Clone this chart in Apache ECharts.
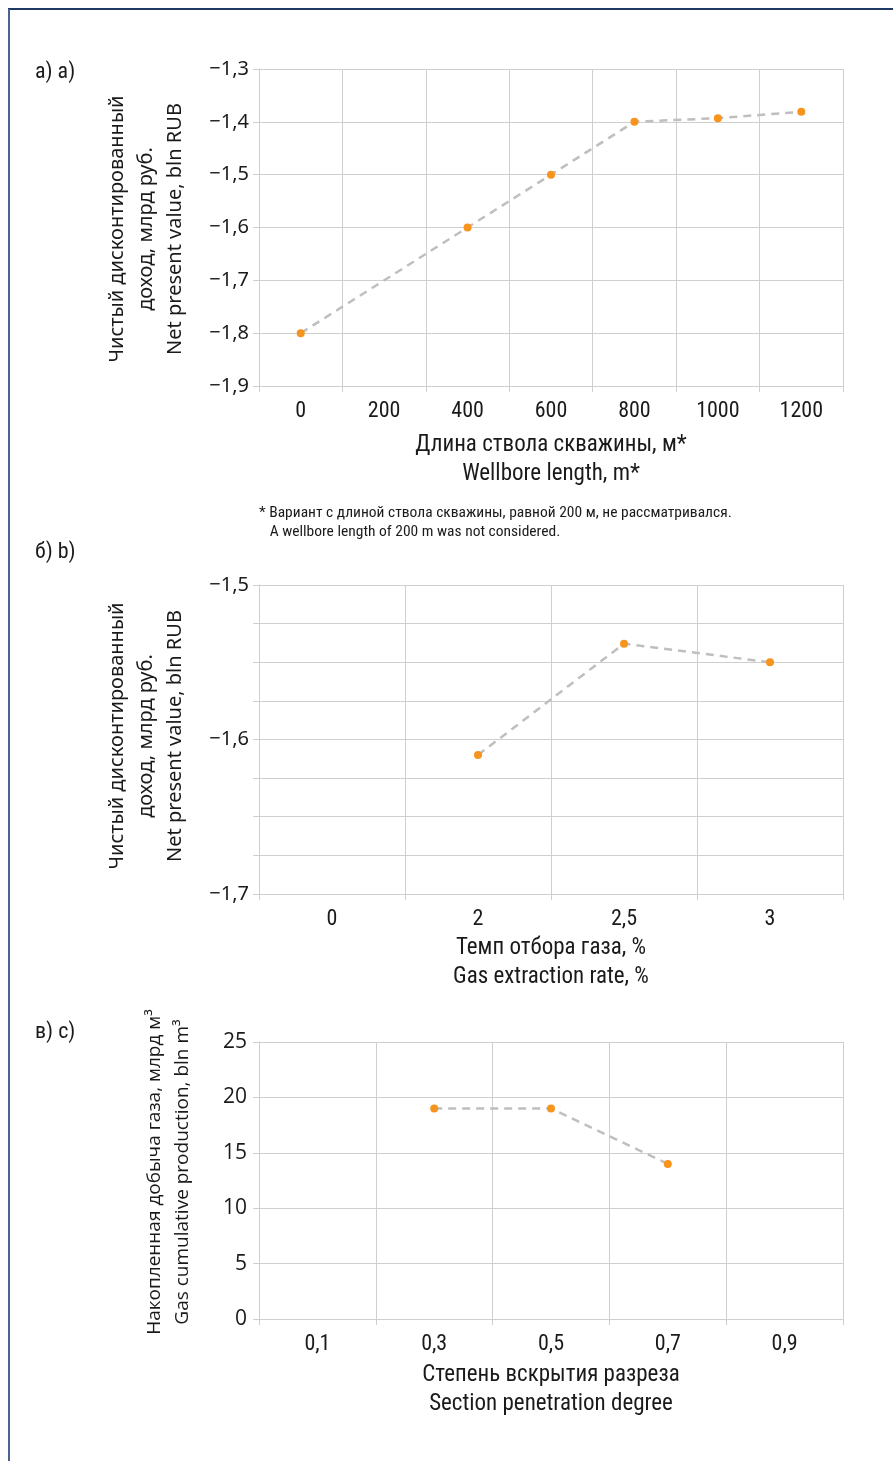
<!DOCTYPE html>
<html>
<head>
<meta charset="utf-8">
<script src="https://cdn.jsdelivr.net/npm/echarts@6/dist/echarts.min.js"></script>
<style>
html,body{margin:0;padding:0;background:#fff;}
#main{width:893px;height:1461px;}
</style>
</head>
<body>
<div id="main"></div>
<script>
// Chart a
var catsA = ['0', '200', '400', '600', '800', '1000', '1200'];
var valsA = [-1.8, null, -1.6, -1.5, -1.4, -1.393, -1.381];
// Chart b
var catsB = ['0', '2', '2,5', '3'];
var valsB = [null, -1.61, -1.538, -1.55];
// Chart c
var catsC = ['0,1', '0,3', '0,5', '0,7', '0,9'];
var valsC = [null, 19, 19, 14, null];

var narrow = "'Liberation Sans Narrow', 'Roboto Condensed', Roboto, sans-serif";
var sans = "'Noto Sans', 'Open Sans', sans-serif";
var gridColor = '#cfcfcf';
var lineColor = '#bfbfbf';
var dotColor = '#f7941d';

function fmtDec(v) {
  return (v < 0 ? '\u2212' : '') + Math.abs(v).toFixed(1).replace('.', ',');
}

function xAxis(idx, cats) {
  return {
    type: 'category', gridIndex: idx, data: cats, boundaryGap: true,
    axisLine: {show: true, lineStyle: {color: gridColor, width: 1}},
    axisTick: {show: true, length: 6, lineStyle: {color: gridColor}},
    splitLine: {show: true, lineStyle: {color: gridColor, width: 1}},
    axisLabel: {color: '#1a1a1a', fontFamily: narrow, fontSize: 22, margin: 14}
  };
}
function yAxis(idx, min, max, interval, formatter, ff, fs, margin) {
  return {
    type: 'value', gridIndex: idx, min: min, max: max, interval: interval,
    axisLine: {show: true, lineStyle: {color: gridColor, width: 1}},
    axisTick: {show: true, length: 6, lineStyle: {color: gridColor}},
    splitLine: {show: true, lineStyle: {color: gridColor, width: 1}},
    axisLabel: {color: '#1a1a1a', fontFamily: ff, fontSize: fs, margin: margin, formatter: formatter}
  };
}
function series(idx, vals) {
  return {
    type: 'line', xAxisIndex: idx, yAxisIndex: idx, data: vals, connectNulls: true,
    symbol: 'circle', symbolSize: 8, showSymbol: true,
    lineStyle: {color: lineColor, width: 2.5, type: [8, 6]},
    itemStyle: {color: dotColor}
  };
}
function txt(x, y, text, opts) {
  var o = opts || {};
  return {
    type: 'text', x: x, y: y, rotation: o.rot || 0, silent: true,
    style: {
      text: text, fill: '#1a1a1a', font: (o.size || 19) + 'px ' + (o.ff || narrow),
      align: o.align || 'center', verticalAlign: o.va || 'middle', lineHeight: o.lh || 29
    }
  };
}

var chart = echarts.init(document.getElementById('main'), null, {renderer: 'canvas'});
chart.setOption({
  animation: false,
  backgroundColor: '#fff',
  grid: [
    {left: 259, top: 69, width: 584, height: 317},
    {left: 259, top: 585, width: 584, height: 309},
    {left: 259, top: 1042, width: 584, height: 277}
  ],
  xAxis: [xAxis(0, catsA), xAxis(1, catsB), xAxis(2, catsC)],
  yAxis: [
    yAxis(0, -1.9, -1.3, 0.1, fmtDec, sans, 20, 10),
    yAxis(1, -1.7, -1.5, 0.025, function (v) {
      var t = v * 10;
      return Math.abs(t - Math.round(t)) < 1e-6 ? fmtDec(v) : '';
    }, sans, 20, 10),
    yAxis(2, 0, 25, 5, null, "'Open Sans', sans-serif", 21, 12)
  ],
  series: [series(0, valsA), series(1, valsB), series(2, valsC)],
  graphic: [
    {type: 'line', shape: {x1: 8, y1: 9, x2: 893, y2: 9}, style: {stroke: '#1f3864', lineWidth: 2}, silent: true},
    {type: 'line', shape: {x1: 9, y1: 9, x2: 9, y2: 1461}, style: {stroke: '#4a6390', lineWidth: 2}, silent: true},
    txt(35, 72, '\u0430) a)', {align: 'left', size: 22}),
    txt(35, 552, '\u0431) b)', {align: 'left', size: 22}),
    txt(35, 1032, '\u0432) c)', {align: 'left', size: 22}),
    txt(146, 229, 'Чистый дисконтированный\nдоход, млрд руб.\nNet present value, bln RUB', {rot: Math.PI / 2, ff: sans, size: 20}),
    txt(146, 736, 'Чистый дисконтированный\nдоход, млрд руб.\nNet present value, bln RUB', {rot: Math.PI / 2, ff: sans, size: 20}),
    txt(169, 1172, 'Накопленная добыча газа, млрд м³\nGas cumulative production, bln m³', {rot: Math.PI / 2, ff: "'Open Sans', sans-serif", size: 19, lh: 28}),
    txt(551, 460, 'Длина ствола скважины, м*\nWellbore length, m*', {size: 23}),
    txt(551, 963, 'Темп отбора газа, %\nGas extraction rate, %', {size: 23}),
    txt(551, 1390, 'Степень вскрытия разреза\nSection penetration degree', {size: 23}),
    txt(259, 523, '* Вариант с длиной ствола скважины, равной 200 м, не рассматривался.\n   A wellbore length of 200 m was not considered.', {align: 'left', size: 15.5, lh: 19})
  ]
});
</script>
</body>
</html>
